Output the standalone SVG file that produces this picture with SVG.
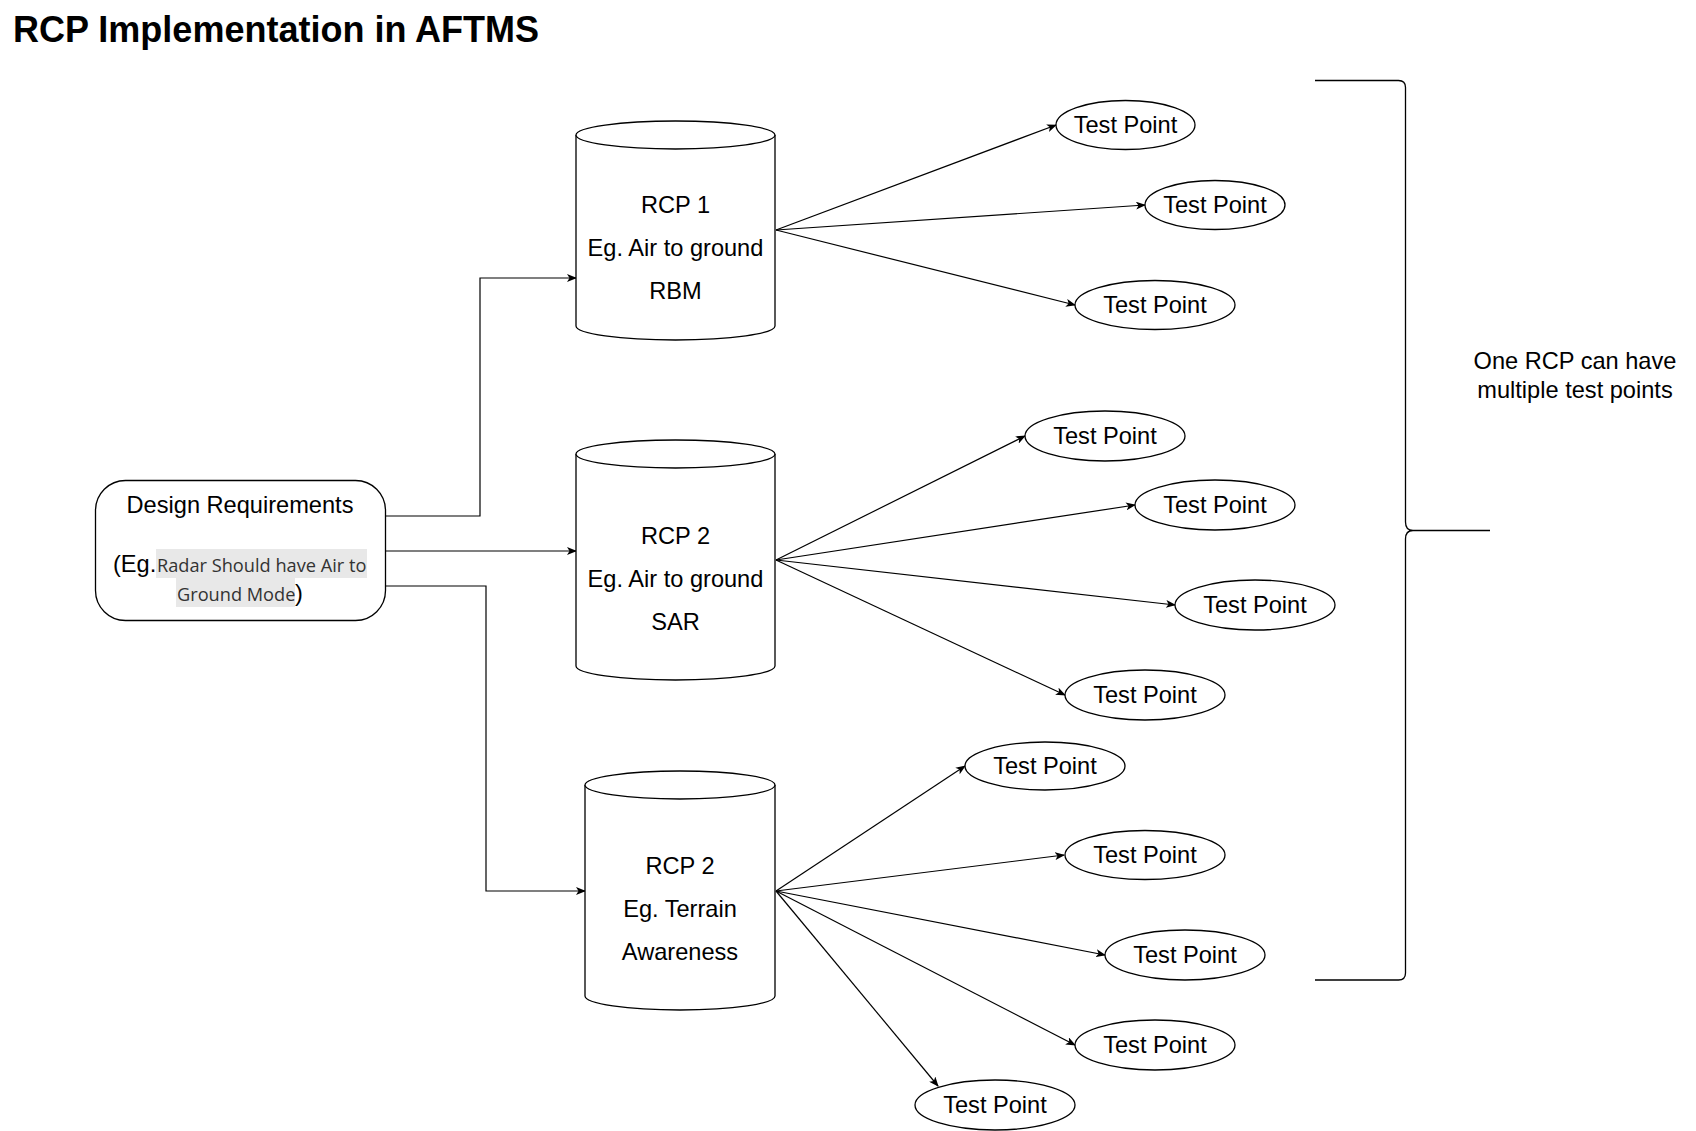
<svg xmlns="http://www.w3.org/2000/svg" width="1696" height="1131" viewBox="0 0 1696 1131">
<style>
.t{font-family:"Liberation Sans",Arial,sans-serif;font-size:23.6px;fill:#000;text-anchor:middle}
.s{fill:#fff;stroke:#000;stroke-width:1.3}
.c{fill:none;stroke:#000;stroke-width:1.3}
.e{fill:none;stroke:#000;stroke-width:1.2;marker-end:url(#a)}
</style>
<defs>
<marker id="a" viewBox="0 0 10 8" markerWidth="10" markerHeight="8" refX="9" refY="4" orient="auto" markerUnits="userSpaceOnUse">
<path d="M0,0 L10,4 L0,8 L2.5,4 z" fill="#000"/>
</marker>
</defs>
<rect width="1696" height="1131" fill="#fff"/>
<text x="13" y="42" style="font-family:'Liberation Sans',Arial,sans-serif;font-size:36px;font-weight:bold">RCP Implementation in AFTMS</text>

<g id="connectors">
<path class="e" d="M385,516 H480 V278 H576"/>
<path class="e" d="M385,551 H576"/>
<path class="e" d="M385,586 H486 V891 H585"/>
<path class="e" d="M776,230 L1056,125"/>
<path class="e" d="M776,230 L1145,205"/>
<path class="e" d="M776,230 L1075,305"/>
<path class="e" d="M776,560 L1025,436"/>
<path class="e" d="M776,560 L1135,505"/>
<path class="e" d="M776,560 L1175,605"/>
<path class="e" d="M776,560 L1065,695"/>
<path class="e" d="M776,891 L965,766"/>
<path class="e" d="M776,891 L1064,855"/>
<path class="e" d="M776,891 L1105,955"/>
<path class="e" d="M776,891 L1075,1045"/>
<path class="e" d="M776,891 L938,1086"/>
</g>

<g id="design-requirements">
<rect class="s" x="95.5" y="480.5" width="290" height="140" rx="30" ry="30"/>
<text class="t" x="240" y="513">Design Requirements</text>
<rect x="156" y="549" width="211" height="29" fill="#e8e8e8"/>
<rect x="176" y="578" width="119" height="29" fill="#e8e8e8"/>
<text x="113" y="572" style="font-family:'Liberation Sans',Arial,sans-serif;font-size:23.6px">(Eg.</text>
<text x="157" y="572" style="font-family:'Open Sans','Noto Sans',sans-serif;font-size:18.2px;fill:#333">Radar Should have Air to</text>
<text x="177" y="601" style="font-family:'Open Sans','Noto Sans',sans-serif;font-size:18.2px;fill:#333">Ground Mode</text>
<text x="295" y="601" style="font-family:'Liberation Sans',Arial,sans-serif;font-size:23.6px">)</text>
</g>

<g id="rcp1">
<path class="s" d="M576,135 V326 A99.5,14 0 0 0 775,326 V135"/>
<ellipse class="s" cx="675.5" cy="135" rx="99.5" ry="14"/>
<text class="t" x="675.5" y="213">RCP 1</text>
<text class="t" x="675.5" y="256">Eg. Air to ground</text>
<text class="t" x="675.5" y="299">RBM</text>
</g>

<g id="rcp2">
<path class="s" d="M576,454 V666 A99.5,14 0 0 0 775,666 V454"/>
<ellipse class="s" cx="675.5" cy="454" rx="99.5" ry="14"/>
<text class="t" x="675.5" y="544">RCP 2</text>
<text class="t" x="675.5" y="587">Eg. Air to ground</text>
<text class="t" x="675.5" y="630">SAR</text>
</g>

<g id="rcp3">
<path class="s" d="M585,785 V996 A95,14 0 0 0 775,996 V785"/>
<ellipse class="s" cx="680" cy="785" rx="95" ry="14"/>
<text class="t" x="680" y="874">RCP 2</text>
<text class="t" x="680" y="917">Eg. Terrain</text>
<text class="t" x="680" y="960">Awareness</text>
</g>

<g id="tp1"><ellipse class="s" cx="1125.5" cy="125" rx="69.5" ry="24.5"/><text class="t" x="1125.5" y="133">Test Point</text></g>
<g id="tp2"><ellipse class="s" cx="1215" cy="205" rx="70" ry="24.5"/><text class="t" x="1215" y="213">Test Point</text></g>
<g id="tp3"><ellipse class="s" cx="1155" cy="305" rx="80" ry="24.5"/><text class="t" x="1155" y="313">Test Point</text></g>
<g id="tp4"><ellipse class="s" cx="1105" cy="436" rx="80" ry="25"/><text class="t" x="1105" y="444">Test Point</text></g>
<g id="tp5"><ellipse class="s" cx="1215" cy="505" rx="80" ry="25"/><text class="t" x="1215" y="513">Test Point</text></g>
<g id="tp6"><ellipse class="s" cx="1255" cy="605" rx="80" ry="25"/><text class="t" x="1255" y="613">Test Point</text></g>
<g id="tp7"><ellipse class="s" cx="1145" cy="695" rx="80" ry="25"/><text class="t" x="1145" y="703">Test Point</text></g>
<g id="tp8"><ellipse class="s" cx="1045" cy="766" rx="80" ry="24"/><text class="t" x="1045" y="774">Test Point</text></g>
<g id="tp9"><ellipse class="s" cx="1145" cy="855" rx="80" ry="24.5"/><text class="t" x="1145" y="863">Test Point</text></g>
<g id="tp10"><ellipse class="s" cx="1185" cy="955" rx="80" ry="25"/><text class="t" x="1185" y="963">Test Point</text></g>
<g id="tp11"><ellipse class="s" cx="1155" cy="1045" rx="80" ry="25"/><text class="t" x="1155" y="1053">Test Point</text></g>
<g id="tp12"><ellipse class="s" cx="995" cy="1105" rx="80" ry="25"/><text class="t" x="995" y="1113">Test Point</text></g>

<g id="brace">
<path class="c" d="M1315,80.5 H1398.5 Q1405.5,80.5 1405.5,87.5 V522 Q1405.5,530.5 1413,530.5 Q1405.5,530.5 1405.5,539 V973 Q1405.5,980 1398.5,980 H1315"/>
<path class="c" d="M1413,530.5 H1490"/>
</g>
<g id="note">
<text class="t" x="1575" y="369">One RCP can have</text>
<text class="t" x="1575" y="398">multiple test points</text>
</g>
</svg>
